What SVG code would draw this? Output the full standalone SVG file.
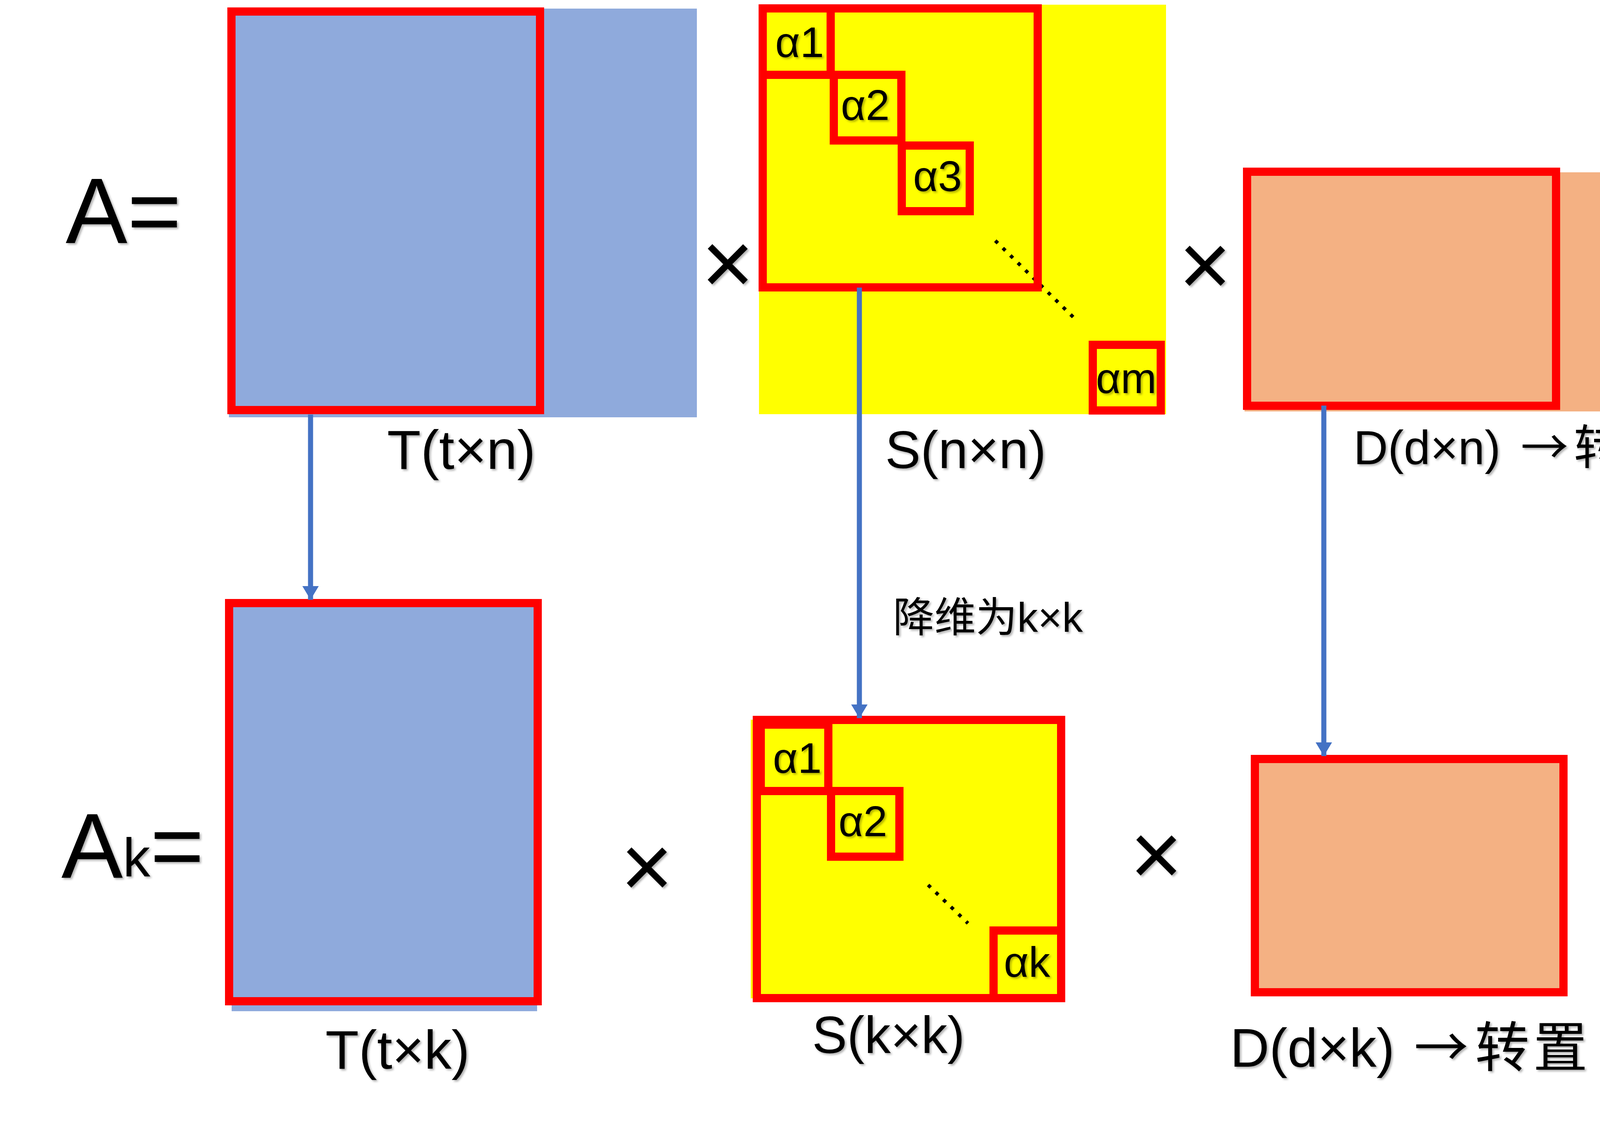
<svg xmlns="http://www.w3.org/2000/svg" width="4367" height="2869" viewBox="0 0 4367 2869">
<defs>
<filter id="sh" x="-10%" y="-10%" width="130%" height="130%">
<feDropShadow dx="4" dy="4" stdDeviation="2.5" flood-color="#000" flood-opacity="0.3"/>
</filter>
<marker id="ah" markerUnits="userSpaceOnUse" markerWidth="44" markerHeight="44" refX="35" refY="21" orient="auto">
<path d="M0,0 L35,21 L0,42 Z" fill="#4472C4"/>
</marker>
</defs>
<style>
.t{font-family:"Liberation Sans","Noto Sans CJK SC",sans-serif;fill:#000;filter:url(#sh)}
.cjk{font-family:"Noto Sans CJK SC",sans-serif}
.box{fill:none;stroke:#FF0000;stroke-width:21}
.blue{fill:#8FAADC}
.yel{fill:#FFFF00}
.org{fill:#F4B183}
.a{font-size:110px;text-anchor:middle}
.x{font-size:230px;text-anchor:middle}
.dots{fill:none;stroke:#000;stroke-width:9;stroke-dasharray:9 18}
.conn{fill:none;stroke:#4472C4;stroke-width:13}
</style>
<rect width="4367" height="2869" fill="#fff"/>

<g id="label-A">
<text class="t" x="168" y="622" font-size="237">A=</text>
</g>

<g id="T-top">
<rect class="blue" x="586" y="22" width="1198" height="1046"/>
<rect class="box" x="592.5" y="29.5" width="790" height="1020"/>
<text class="t" x="991" y="1200" font-size="141">T(t×n)</text>
</g>

<g id="times-1"><text class="t x" x="1863" y="753">×</text></g>

<g id="S-top">
<rect class="yel" x="1943" y="12" width="1042" height="1048"/>
<line class="dots" x1="2548" y1="616" x2="2757" y2="821"/>
<rect class="box" x="1952.5" y="21.5" width="704" height="714"/>
<rect class="box" x="1952.5" y="21.5" width="174" height="170"/>
<rect class="box" x="2134.5" y="191.5" width="173" height="168"/>
<rect class="box" x="2308.5" y="372.5" width="174" height="168"/>
<rect class="box" x="2797.5" y="882.5" width="174" height="168"/>
<text class="t a" x="2047" y="146">α1</text>
<text class="t a" x="2215" y="307">α2</text>
<text class="t a" x="2400" y="489">α3</text>
<text class="t a" x="2883" y="1006">αm</text>
<text class="t" x="2266" y="1198" font-size="136">S(n×n)</text>
</g>

<g id="times-2"><text class="t x" x="3085" y="757">×</text></g>

<g id="D-top">
<rect class="org" x="3186" y="441" width="1042" height="612"/>
<rect class="box" x="3192.5" y="439.5" width="791" height="599"/>
<text class="t" x="3465" y="1188" font-size="122">D(d×n) <tspan class="cjk" x="3893">→</tspan><tspan class="cjk" x="4029 4156">转置</tspan></text>
</g>

<g id="label-Ak">
<text class="t" x="157" y="2246" font-size="236">A<tspan font-size="140" y="2243">k</tspan><tspan y="2246">=</tspan></text>
</g>

<g id="T-bottom">
<rect class="blue" x="593" y="1545" width="782" height="1043"/>
<rect class="box" x="586.5" y="1543.5" width="790" height="1019"/>
<text class="t" x="833" y="2735" font-size="140">T(t×k)</text>
</g>

<g id="times-3"><text class="t x" x="1656" y="2297">×</text></g>

<g id="S-bottom">
<rect class="yel" x="1922" y="1842" width="800" height="713"/>
<line class="dots" x1="2376" y1="2265" x2="2478" y2="2363"/>
<rect class="box" x="1937.5" y="1842.5" width="779" height="712"/>
<rect class="box" x="1947.5" y="1854.5" width="173" height="170"/>
<rect class="box" x="2127.5" y="2024.5" width="175" height="168"/>
<rect class="box" x="2543.5" y="2381.5" width="173" height="173"/>
<text class="t a" x="2041" y="1978">α1</text>
<text class="t a" x="2209" y="2140">α2</text>
<text class="t a" x="2629" y="2500">αk</text>
<text class="t" x="2079" y="2695" font-size="134">S(k×k)</text>
</g>

<g id="label-reduce">
<text class="t" x="2286" y="1617" font-size="106">降维为k×k</text>
</g>

<g id="times-4"><text class="t x" x="2960" y="2266">×</text></g>

<g id="D-bottom">
<rect class="org" x="3212.5" y="1942.5" width="790" height="597"/>
<rect class="box" x="3212.5" y="1942.5" width="790" height="597"/>
<text class="t" x="3149" y="2730" font-size="139">D(d×k) <tspan class="cjk" x="3620">→</tspan><tspan class="cjk" x="3776 3925">转置</tspan></text>
</g>

<g id="connectors">
<line class="conn" x1="795" y1="1061" x2="795" y2="1535" marker-end="url(#ah)"/>
<line class="conn" x1="2200" y1="736" x2="2200" y2="1838" marker-end="url(#ah)"/>
<line class="conn" x1="3389" y1="1038" x2="3389" y2="1935" marker-end="url(#ah)"/>
</g>
</svg>
